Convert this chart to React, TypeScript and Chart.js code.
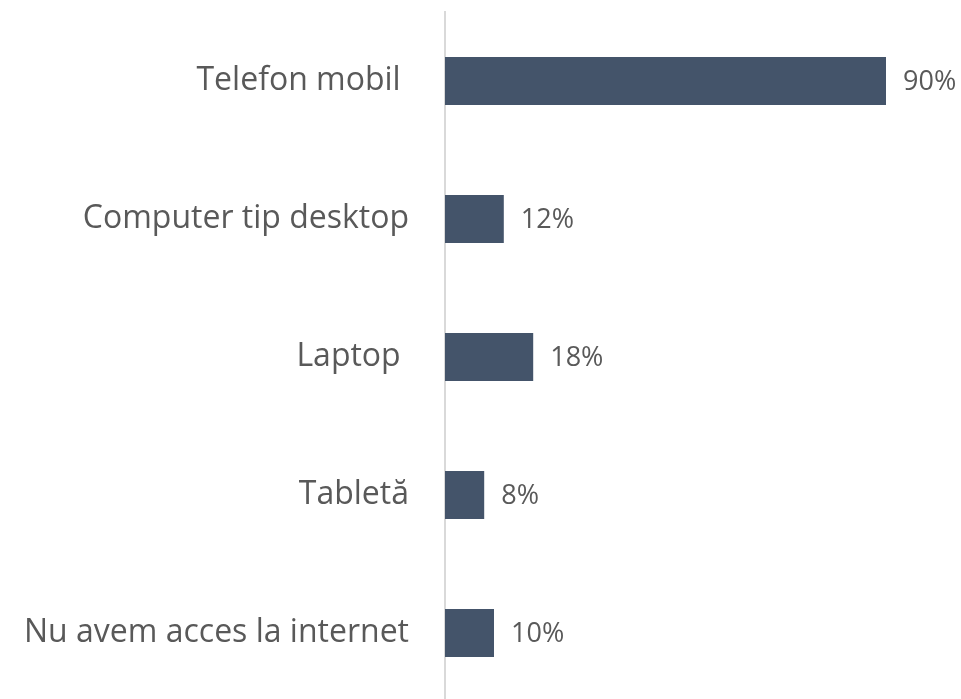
import React, { useEffect, useRef } from "react";
import { Chart, registerables } from "chart.js";

Chart.register(...registerables);

const categories = ["Telefon mobil ", "Computer tip desktop", "Laptop ", "Tabletă", "Nu avem acces la internet"];
const values = [90, 12, 18, 8, 10];
const valueLabels = ["90%", "12%", "18%", "8%", "10%"];

const FONT = "'Open Sans', sans-serif";

const valueLabelPlugin = {
  id: "valueLabels",
  afterDatasetsDraw(chart: any) {
    const { ctx } = chart;
    const meta = chart.getDatasetMeta(0);
    ctx.save();
    ctx.font = `27px ${FONT}`;
    ctx.fillStyle = "#595959";
    ctx.textAlign = "left";
    ctx.textBaseline = "middle";
    meta.data.forEach((bar: any, i: number) => {
      ctx.fillText(valueLabels[i], bar.x + 17, bar.y + 1);
    });
    ctx.restore();
  },
};

export default function App() {
  const ref = useRef<HTMLCanvasElement | null>(null);
  useEffect(() => {
    document.body.style.margin = "0";
    document.body.style.overflow = "hidden";
    const chart = new Chart(ref.current!, {
      type: "bar",
      data: {
        labels: categories,
        datasets: [
          {
            data: values,
            backgroundColor: "#44546A",
            categoryPercentage: 1,
            barPercentage: 48 / 138,
          },
        ],
      },
      options: {
        indexAxis: "y",
        animation: false,
        responsive: false,
        layout: { padding: { top: 12, right: 26, bottom: 0, left: 0 } },
        plugins: { legend: { display: false }, tooltip: { enabled: false } },
        scales: {
          x: { display: false, min: 0, max: 100 },
          y: {
            offset: true,
            grid: { display: false },
            border: { display: true, color: "#D9D9D9", width: 2 },
            ticks: {
              color: "#595959",
              font: { family: FONT, size: 32 },
              padding: 28,
            },
            afterFit(scale: any) {
              scale.width = 445;
              scale.paddingTop = 0;
              scale.paddingBottom = 0;
            },
          },
        },
      },
      plugins: [valueLabelPlugin],
    });
    return () => chart.destroy();
  }, []);
  return <canvas ref={ref} width={961} height={702} style={{ display: "block" }} />;
}
